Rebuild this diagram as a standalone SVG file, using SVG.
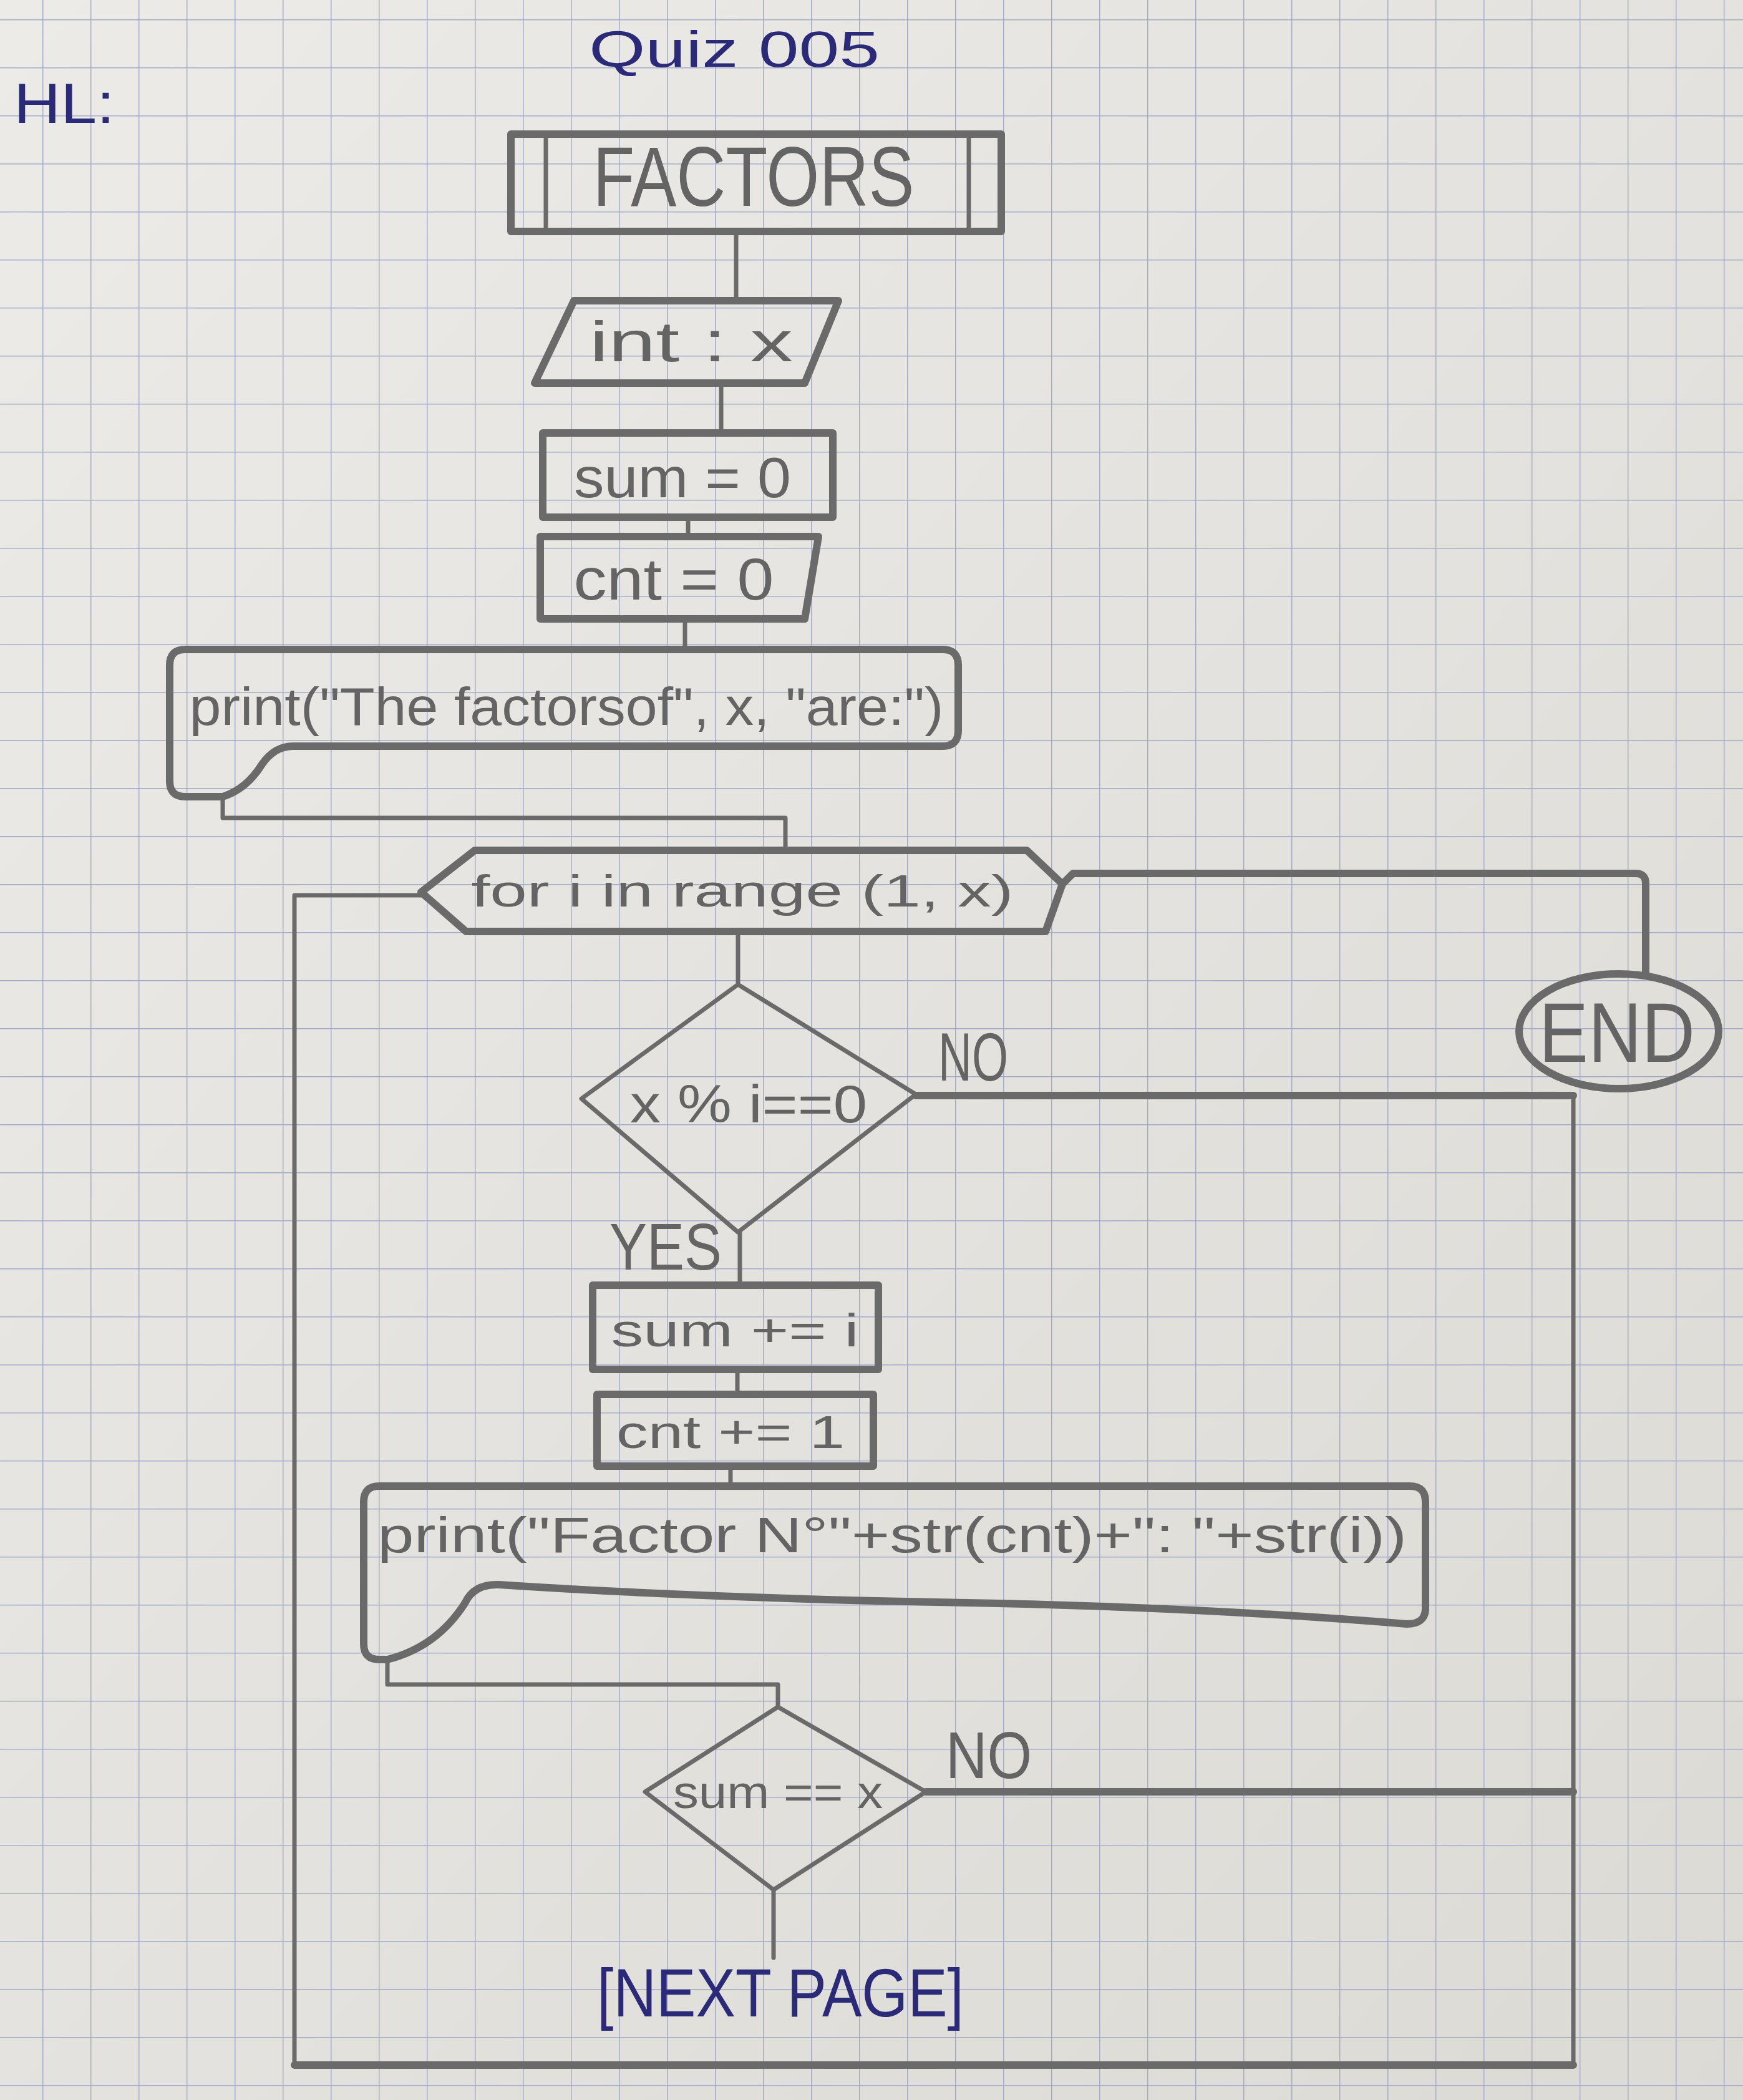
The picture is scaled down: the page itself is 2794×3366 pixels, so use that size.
<svg xmlns="http://www.w3.org/2000/svg" width="2794" height="3366" viewBox="0 0 2794 3366">
<defs>
<pattern id="grid" width="77" height="77" patternUnits="userSpaceOnUse" x="68" y="31">
<path d="M0 0 H77 M0 0 V77" stroke="#a4abc9" stroke-width="3" fill="none"/>
</pattern>
<linearGradient id="paper" x1="0" y1="0" x2="1" y2="1">
<stop offset="0" stop-color="#ecebe7"/>
<stop offset="1" stop-color="#dcdad5"/>
</linearGradient>
</defs>
<style>
.shape{fill:none;stroke:#6a6a6a;stroke-width:12;stroke-linejoin:round;stroke-linecap:round}
.thin{stroke-width:7}
.conn{fill:none;stroke:#6a6a6a;stroke-width:7;stroke-linejoin:round;stroke-linecap:round}
.thick{stroke-width:12}
.pt{font-family:"Liberation Sans","DejaVu Sans",sans-serif;fill:#646464;text-anchor:middle}
.ink{font-family:"Liberation Sans","DejaVu Sans",sans-serif;fill:#2b2a78;text-anchor:middle}
</style>
<rect x="0" y="0" width="2794" height="3366" fill="url(#paper)"/>
<rect x="0" y="0" width="2794" height="3366" fill="url(#grid)"/>

<g id="title">
<text class="ink" x="1177" y="107" font-size="82" textLength="466" lengthAdjust="spacingAndGlyphs">Quiz 005</text>
<text class="ink" x="103" y="197" font-size="90" textLength="162" lengthAdjust="spacingAndGlyphs">HL:</text>
</g>

<g id="connectors">
<path class="conn" d="M1180 373 V482"/>
<path class="conn" d="M1156 614 V694"/>
<path class="conn" d="M1103 829 V860"/>
<path class="conn" d="M1098 992 V1041"/>
<path class="conn" d="M357 1277 V1311 H1259 V1363"/>
<path class="conn thick" d="M1703 1417 L1720 1400 H2622 Q2638 1400 2638 1416 V1562"/>
<path class="conn" d="M1183 1493 V1578"/>
<path class="conn thick" d="M1468 1756 H2522"/>
<path class="conn" d="M2522 1756 V3310"/>
<path class="conn thick" d="M2522 3310 H472"/>
<path class="conn" d="M472 3310 V1435 H675"/>
<path class="conn" d="M1186 1975 V2060"/>
<path class="conn" d="M1182 2195 V2235"/>
<path class="conn" d="M1171 2350 V2382"/>
<path class="conn" d="M621 2660 V2700 H1247 V2736"/>
<path class="conn thick" d="M1484 2872 H2522"/>
<path class="conn" d="M1240 3029 V3138"/>
</g>

<g id="node-factors">
<rect class="shape" x="819" y="215" width="786" height="156"/>
<path class="shape thin" d="M875 215 V371 M1553 215 V371"/>
<text class="pt" x="1208" y="330" font-size="135" textLength="515" lengthAdjust="spacingAndGlyphs">FACTORS</text>
</g>

<g id="node-input">
<path class="shape" d="M920 482 H1344 L1290 614 H857 Z"/>
<text class="pt" x="1108" y="579" font-size="90" textLength="326" lengthAdjust="spacingAndGlyphs">int : x</text>
</g>

<g id="node-sum0">
<rect class="shape" x="870" y="694" width="465" height="135"/>
<text class="pt" x="1094" y="797" font-size="90" textLength="348" lengthAdjust="spacingAndGlyphs">sum = 0</text>
</g>

<g id="node-cnt0">
<path class="shape" d="M866 860 H1312 L1290 992 H866 Z"/>
<text class="pt" x="1080" y="961" font-size="95" textLength="321" lengthAdjust="spacingAndGlyphs">cnt = 0</text>
</g>

<g id="node-print1">
<path class="shape" d="M272 1066 Q272 1041 297 1041 H1511 Q1536 1041 1536 1066 V1171 Q1536 1196 1511 1196 H470 Q440 1196 420 1225 Q395 1265 357 1277 H297 Q272 1277 272 1252 Z"/>
<text class="pt" x="908" y="1162" font-size="85" textLength="1209" lengthAdjust="spacingAndGlyphs">print("The factorsof", x, "are:")</text>
</g>

<g id="node-for">
<path class="shape" d="M761 1363 H1646 L1703 1417 L1676 1493 H747 L675 1430 Z"/>
<text class="pt" x="1190" y="1453" font-size="72" textLength="869" lengthAdjust="spacingAndGlyphs">for i in range (1, x)</text>
</g>

<g id="node-end">
<ellipse class="shape" cx="2595" cy="1653" rx="160" ry="92"/>
<text class="pt" x="2592" y="1702" font-size="135" textLength="250" lengthAdjust="spacingAndGlyphs">END</text>
</g>

<g id="node-cond1">
<path class="shape thin" d="M1183 1578 L1468 1754 L1183 1975 L932 1761 Z"/>
<text class="pt" x="1200" y="1799" font-size="85" textLength="380" lengthAdjust="spacingAndGlyphs">x % i==0</text>
<text class="pt" x="1560" y="1732" font-size="110" textLength="112" lengthAdjust="spacingAndGlyphs">NO</text>
<text class="pt" x="1067" y="2035" font-size="105" textLength="180" lengthAdjust="spacingAndGlyphs">YES</text>
</g>

<g id="node-sumi">
<rect class="shape" x="950" y="2060" width="458" height="135"/>
<text class="pt" x="1178" y="2158" font-size="75" textLength="397" lengthAdjust="spacingAndGlyphs">sum += i</text>
</g>

<g id="node-cnt1">
<rect class="shape" x="957" y="2235" width="443" height="115"/>
<text class="pt" x="1171" y="2321" font-size="75" textLength="366" lengthAdjust="spacingAndGlyphs">cnt += 1</text>
</g>

<g id="node-print2">
<path class="shape" d="M583 2407 Q583 2382 608 2382 H2260 Q2285 2382 2285 2407 V2578 Q2285 2603 2255 2603 Q1900 2574 1500 2568 Q1100 2560 800 2540 Q760 2538 745 2570 Q700 2640 621 2660 H608 Q583 2660 583 2635 Z"/>
<text class="pt" x="1430" y="2488" font-size="80" textLength="1650" lengthAdjust="spacingAndGlyphs">print("Factor N°"+str(cnt)+": "+str(i))</text>
</g>

<g id="node-cond2">
<path class="shape thin" d="M1247 2736 L1484 2872 L1240 3029 L1034 2872 Z"/>
<text class="pt" x="1247" y="2898" font-size="75" textLength="336" lengthAdjust="spacingAndGlyphs">sum == x</text>
<text class="pt" x="1585" y="2850" font-size="105" textLength="138" lengthAdjust="spacingAndGlyphs">NO</text>
</g>

<g id="next-page">
<text class="ink" x="1251" y="3232" font-size="110" textLength="588" lengthAdjust="spacingAndGlyphs">[NEXT PAGE]</text>
</g>
</svg>
